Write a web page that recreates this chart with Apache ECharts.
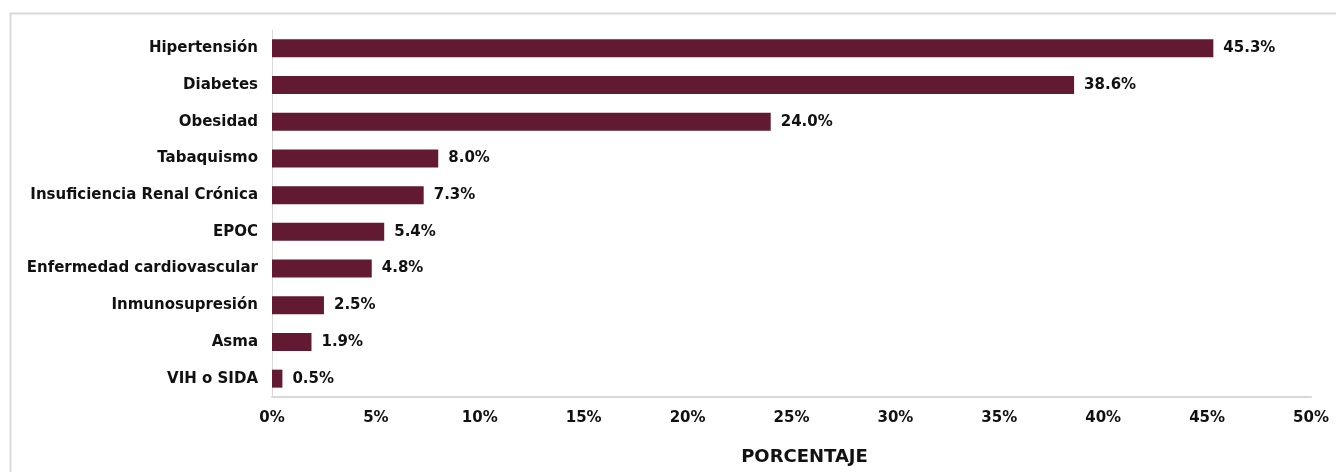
<!DOCTYPE html>
<html>
<head>
<meta charset="utf-8">
<script src="https://cdn.jsdelivr.net/npm/echarts@6/dist/echarts.min.js"></script>
<style>
html, body {margin: 0; padding: 0; background: #fff;}
#chart {width: 1336px; height: 472px;}
</style>
</head>
<body>
<div id="chart"></div>
<script>
var categories = ["Hipertensión", "Diabetes", "Obesidad", "Tabaquismo", "Insuficiencia Renal Crónica", "EPOC", "Enfermedad cardiovascular", "Inmunosupresión", "Asma", "VIH o SIDA"];
var values = [45.3, 38.6, 24.0, 8.0, 7.3, 5.4, 4.8, 2.5, 1.9, 0.5];
var axisName = "PORCENTAJE";

var font = "'DejaVu Sans', sans-serif";
var myChart = echarts.init(document.getElementById("chart"));
var option = {
	backgroundColor: "#ffffff",
	animation: false,
	graphic: [{
		type: "rect",
		left: 8,
		top: 11,
		shape: {width: 1340, height: 470},
		style: {fill: "none", stroke: "#d9d9d9", lineWidth: 2},
		silent: true
	}],
	grid: {left: 272, right: 25, top: 30, bottom: 75},
	xAxis: {
		type: "value",
		min: 0,
		max: 50,
		interval: 5,
		name: axisName,
		nameLocation: "middle",
		nameGap: 51,
		nameTextStyle: {color: "#111", fontSize: 18, fontWeight: "bold", fontFamily: font, padding: [0, 0, 0, 26]},
		axisLine: {show: true, lineStyle: {color: "#d9d9d9", width: 2}},
		axisTick: {show: false},
		splitLine: {show: false},
		axisLabel: {formatter: "{value}%", color: "#111", fontSize: 15, fontWeight: "bold", fontFamily: font, margin: 14}
	},
	yAxis: {
		type: "category",
		inverse: true,
		data: categories,
		axisLine: {show: true, lineStyle: {color: "#d9d9d9", width: 1}},
		axisTick: {show: false},
		axisLabel: {color: "#111", fontSize: 15, fontWeight: "bold", fontFamily: font, margin: 14}
	},
	series: [{
		type: "bar",
		data: values,
		barWidth: 18,
		itemStyle: {color: "#621a33"},
		label: {
			show: true,
			position: "right",
			distance: 10,
			formatter: function (p) { return p.value.toFixed(1) + "%"; },
			color: "#111",
			fontSize: 15,
			fontWeight: "bold",
			fontFamily: font
		}
	}]
};
myChart.setOption(option);
</script>
</body>
</html>
